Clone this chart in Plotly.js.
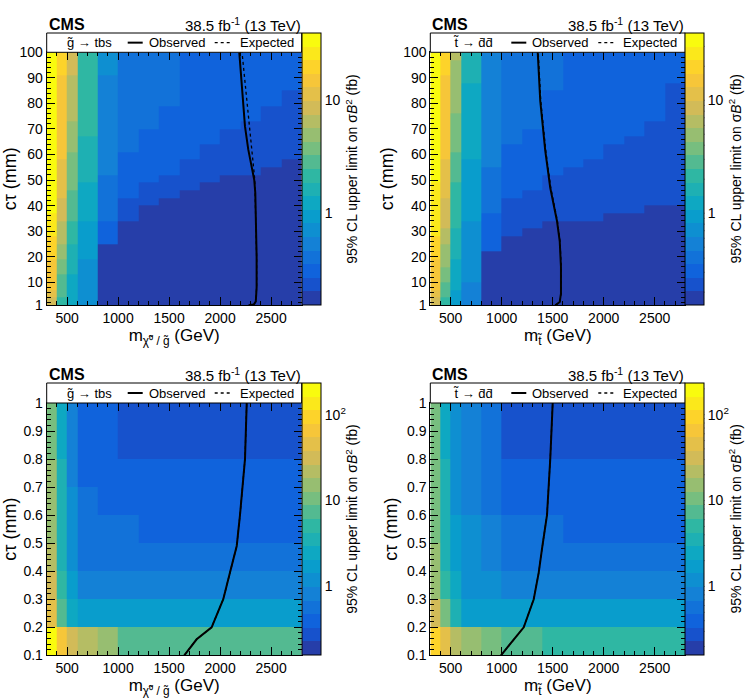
<!DOCTYPE html>
<html><head><meta charset="utf-8">
<script src="https://cdn.plot.ly/plotly-3.0.1.min.js"></script>
<style>html,body{margin:0;padding:0;background:#fff}#chart{width:754px;height:698px}</style>
</head><body><div id="chart"></div>
<script>
// ---------------- data ----------------
const massEdges = [300,400,500,600,800,1000,1200,1400,1600,1800,2000,2200,2400,2600,2800];
const ctEdgesLong = [1,4,7,10,13,16,19,22,25,28,31,34,37,40,43,46,49,52,55,58,61,64,67,70,73,76,79,82,85,88,91,94,97,100];
const ctEdgesShort = [0.1,0.2,0.3,0.4,0.5,0.6,0.7,0.8,0.9,1.0];

// 95% CL upper limit (fb); one array per mass bin, listed from lowest ctau bin upward
const gluinoLongLimit = [
 [9,11,13,15,16,17,18,20,22,24,26,28,36,36,36,36,36,36,36,36,36,36,36,36,36,36,36,36,36,36,36,36,36],
 [2.2,2.5,2.8,3.2,3.6,4.2,4.8,5.3,6,6.6,7.2,8,8.8,9.5,10.3,11,11.5,12,12.5,13,13.5,14,14.5,15,15.5,16,16,16.5,17,17,17.5,17.5,18],
 [1.1,1.2,1.3,1.4,1.5,1.6,1.7,1.8,2.0,2.1,2.3,2.5,2.7,2.9,3.1,3.3,3.5,3.7,4.0,4.2,4.5,4.8,5.1,5.4,5.7,6.0,6.3,6.6,6.9,7.2,7.5,7.8,8.0],
 [0.65,0.68,0.7,0.72,0.75,0.8,0.85,0.9,0.95,1.0,1.05,1.1,1.15,1.2,1.3,1.4,1.5,1.6,1.7,1.75,1.8,1.85,1.9,1.95,2.0,2.05,2.1,2.15,2.2,2.25,2.3,2.3,2.35],
 [0.17,0.17,0.17,0.17,0.17,0.17,0.17,0.17,0.28,0.28,0.28,0.38,0.4,0.42,0.44,0.45,0.46,0.47,0.5,0.5,0.52,0.53,0.54,0.55,0.56,0.57,0.58,0.59,0.6,0.6,0.62,0.63,0.64],
 [0.17,0.17,0.17,0.17,0.17,0.17,0.17,0.17,0.17,0.17,0.17,0.23,0.23,0.23,0.3,0.3,0.3,0.3,0.3,0.3,0.4,0.4,0.4,0.4,0.4,0.4,0.4,0.4,0.4,0.4,0.4,0.4,0.4],
 [0.17,0.17,0.17,0.17,0.17,0.17,0.17,0.17,0.17,0.17,0.17,0.17,0.17,0.23,0.23,0.23,0.3,0.3,0.3,0.3,0.3,0.3,0.3,0.4,0.4,0.4,0.4,0.4,0.4,0.4,0.4,0.4,0.4],
 [0.17,0.17,0.17,0.17,0.17,0.17,0.17,0.17,0.17,0.17,0.17,0.17,0.17,0.17,0.23,0.23,0.23,0.3,0.3,0.3,0.3,0.3,0.3,0.3,0.3,0.3,0.37,0.37,0.37,0.37,0.37,0.37,0.37],
 [0.17,0.17,0.17,0.17,0.17,0.17,0.17,0.17,0.17,0.17,0.17,0.17,0.17,0.17,0.17,0.23,0.23,0.23,0.23,0.3,0.3,0.3,0.3,0.3,0.3,0.3,0.3,0.3,0.3,0.3,0.3,0.3,0.3],
 [0.17,0.17,0.17,0.17,0.17,0.17,0.17,0.17,0.17,0.17,0.17,0.17,0.17,0.17,0.17,0.17,0.23,0.23,0.23,0.23,0.23,0.3,0.3,0.3,0.3,0.3,0.3,0.3,0.3,0.3,0.3,0.3,0.3],
 [0.17,0.17,0.17,0.17,0.17,0.17,0.17,0.17,0.17,0.17,0.17,0.17,0.17,0.17,0.17,0.17,0.17,0.23,0.23,0.23,0.23,0.23,0.23,0.3,0.3,0.3,0.3,0.3,0.3,0.3,0.3,0.3,0.3],
 [0.17,0.17,0.17,0.17,0.17,0.17,0.17,0.17,0.17,0.17,0.17,0.17,0.17,0.17,0.17,0.17,0.17,0.23,0.23,0.23,0.23,0.23,0.23,0.23,0.29,0.29,0.29,0.29,0.29,0.29,0.29,0.29,0.29],
 [0.17,0.17,0.17,0.17,0.17,0.17,0.17,0.17,0.17,0.17,0.17,0.17,0.17,0.17,0.17,0.17,0.17,0.17,0.23,0.23,0.23,0.23,0.23,0.23,0.23,0.23,0.28,0.28,0.28,0.28,0.28,0.28,0.28],
 [0.17,0.17,0.17,0.17,0.17,0.17,0.17,0.17,0.17,0.17,0.17,0.17,0.17,0.17,0.17,0.17,0.17,0.17,0.17,0.23,0.23,0.23,0.23,0.23,0.23,0.23,0.23,0.23,0.27,0.27,0.27,0.27,0.27]
];
const stopLongLimit = [
 [9,11,13,15,16,17,18,20,22,23,24,25,26,27,28,29,30,36,36,36,36,36,36,36,36,36,36,36,36,36,36,36,36],
 [2.3,2.6,3.0,3.4,3.9,4.4,5.0,5.6,6.2,6.8,7.5,8.2,9.0,9.8,10.5,11,11.5,12,12.5,13,13.5,14,14.5,15,15.5,16,16,16.5,17,17,17.5,17.5,18],
 [0.9,1.0,1.1,1.2,1.3,1.4,1.5,1.6,1.7,1.8,1.9,2.0,2.1,2.2,2.3,2.4,2.5,2.7,2.9,3.1,3.3,3.5,3.7,3.9,4.1,4.3,4.5,4.7,4.9,5.1,5.3,5.5,5.7],
 [0.55,0.58,0.6,0.62,0.65,0.68,0.7,0.72,0.75,0.78,0.8,0.83,0.86,0.9,0.93,0.96,1.0,1.03,1.06,1.1,1.13,1.16,1.2,1.23,1.26,1.3,1.33,1.36,1.4,1.43,1.46,1.5,1.55],
 [0.17,0.17,0.17,0.17,0.17,0.17,0.17,0.27,0.27,0.27,0.27,0.27,0.37,0.37,0.37,0.37,0.37,0.37,0.47,0.47,0.47,0.47,0.47,0.47,0.47,0.47,0.47,0.47,0.47,0.47,0.47,0.47,0.47],
 [0.17,0.17,0.17,0.17,0.17,0.17,0.17,0.17,0.17,0.23,0.23,0.23,0.23,0.23,0.3,0.3,0.3,0.3,0.3,0.3,0.3,0.38,0.38,0.38,0.38,0.38,0.38,0.38,0.38,0.38,0.38,0.38,0.38],
 [0.17,0.17,0.17,0.17,0.17,0.17,0.17,0.17,0.17,0.17,0.23,0.23,0.23,0.23,0.23,0.3,0.3,0.3,0.3,0.3,0.3,0.3,0.3,0.37,0.37,0.37,0.37,0.37,0.37,0.37,0.37,0.37,0.37],
 [0.17,0.17,0.17,0.17,0.17,0.17,0.17,0.17,0.17,0.17,0.17,0.23,0.23,0.23,0.23,0.23,0.23,0.3,0.3,0.3,0.3,0.3,0.3,0.3,0.3,0.3,0.3,0.3,0.37,0.37,0.37,0.37,0.37],
 [0.17,0.17,0.17,0.17,0.17,0.17,0.17,0.17,0.17,0.17,0.17,0.23,0.23,0.23,0.23,0.23,0.23,0.23,0.3,0.3,0.3,0.3,0.3,0.3,0.3,0.3,0.3,0.3,0.3,0.3,0.3,0.3,0.3],
 [0.17,0.17,0.17,0.17,0.17,0.17,0.17,0.17,0.17,0.17,0.17,0.23,0.23,0.23,0.23,0.23,0.23,0.23,0.23,0.3,0.3,0.3,0.3,0.3,0.3,0.3,0.3,0.3,0.3,0.3,0.3,0.3,0.3],
 [0.17,0.17,0.17,0.17,0.17,0.17,0.17,0.17,0.17,0.17,0.17,0.17,0.23,0.23,0.23,0.23,0.23,0.23,0.23,0.23,0.23,0.3,0.3,0.3,0.3,0.3,0.3,0.3,0.3,0.3,0.3,0.3,0.3],
 [0.17,0.17,0.17,0.17,0.17,0.17,0.17,0.17,0.17,0.17,0.17,0.17,0.23,0.23,0.23,0.23,0.23,0.23,0.23,0.23,0.23,0.23,0.29,0.29,0.29,0.29,0.29,0.29,0.29,0.29,0.29,0.29,0.29],
 [0.17,0.17,0.17,0.17,0.17,0.17,0.17,0.17,0.17,0.17,0.17,0.17,0.17,0.23,0.23,0.23,0.23,0.23,0.23,0.23,0.23,0.23,0.23,0.23,0.28,0.28,0.28,0.28,0.28,0.28,0.28,0.28,0.28],
 [0.17,0.17,0.17,0.17,0.17,0.17,0.17,0.17,0.17,0.17,0.17,0.17,0.17,0.23,0.23,0.23,0.23,0.23,0.23,0.23,0.23,0.23,0.23,0.23,0.23,0.23,0.23,0.23,0.23,0.27,0.27,0.27,0.27]
];
const gluinoShortLimit = [
 [170,45,32,20,15,14,13,12,11],
 [60,8,5,4,3.5,3.3,3.1,2.6,2.5],
 [32,2.4,1.7,1.3,1.2,1.2,0.9,0.85,0.85],
 [20,1.6,0.9,0.6,0.6,0.6,0.42,0.42,0.42],
 [14,1.6,0.85,0.6,0.6,0.42,0.42,0.42,0.42],
 [6.5,1.6,0.85,0.6,0.6,0.42,0.42,0.3,0.3],
 [6.5,1.6,0.85,0.6,0.42,0.42,0.42,0.3,0.3],
 [6.5,1.6,0.85,0.6,0.42,0.42,0.42,0.3,0.3],
 [6.5,1.6,0.85,0.6,0.42,0.42,0.42,0.3,0.3],
 [6.5,1.6,0.85,0.6,0.42,0.42,0.42,0.3,0.3],
 [6.5,1.6,0.85,0.6,0.42,0.42,0.42,0.3,0.3],
 [6.5,1.6,0.85,0.6,0.42,0.42,0.42,0.3,0.3],
 [6.5,1.6,0.85,0.6,0.42,0.42,0.42,0.3,0.3],
 [6.5,1.6,0.85,0.6,0.42,0.42,0.42,0.3,0.3]
];
const stopShortLimit = [
 [90,30,16,13,12,11,10,9.5,9],
 [40,9,6,4,3.5,3.3,3.1,2.9,2.8],
 [20,3.4,2.4,1.7,1.5,1.4,1.2,1.2,1.1],
 [15,2.0,1.4,1.1,1.05,0.85,0.85,0.8,0.8],
 [10,1.7,1.1,0.9,0.8,0.6,0.6,0.6,0.6],
 [7.5,1.6,0.9,0.6,0.6,0.45,0.45,0.32,0.32],
 [7.5,1.6,0.9,0.6,0.6,0.45,0.45,0.32,0.32],
 [5.5,1.6,0.9,0.6,0.6,0.45,0.45,0.32,0.32],
 [5.5,1.6,0.9,0.6,0.45,0.45,0.45,0.32,0.32],
 [5.5,1.6,0.9,0.6,0.45,0.45,0.45,0.32,0.32],
 [5.5,1.6,0.9,0.6,0.45,0.45,0.45,0.32,0.32],
 [5.5,1.6,0.9,0.6,0.45,0.45,0.45,0.32,0.32],
 [5.5,1.6,0.9,0.6,0.45,0.45,0.45,0.32,0.32],
 [5.5,1.6,0.9,0.6,0.45,0.45,0.45,0.32,0.32]
];

// exclusion contours (mass GeV, ctau mm)
const gluinoLongObsM  = [2280,2330,2350,2358,2358,2352,2345,2335,2310,2276,2244,2220,2200,2188];
const gluinoLongObsCt = [1,1.3,2.5,8,20,35,45,50,55,62,71,82,92,100];
const gluinoLongExpM  = [2280,2330,2350,2358,2358,2352,2347,2340,2328,2310,2285,2262,2240,2215];
const gluinoLongExpCt = [1,1.3,2.5,8,20,35,45,50,55,62,70,81,90,100];
const stopLongObsM  = [1525,1569,1581,1581,1569,1542,1476,1427,1378,1353];
const stopLongObsCt = [1,2.3,5.6,16,26,34,47,61.5,81,100];
const stopLongExpM  = [1527,1571,1583,1584,1572,1546,1481,1432,1383,1358];
const stopLongExpCt = [1,2.3,5.6,16,26,34,47,61.5,81,100];
const gluinoShortObsM  = [1649,1770,1917,2031,2097,2163,2195,2244,2261];
const gluinoShortObsCt = [0.1,0.157,0.2,0.3,0.395,0.49,0.6,0.8,1.0];
const gluinoShortExpM  = [1649,1770,1917,2031,2097,2163,2195,2244,2261];
const gluinoShortExpCt = [0.1,0.157,0.2,0.3,0.395,0.49,0.6,0.8,1.0];
const stopShortObsM  = [993,1101,1216,1314,1363,1395,1444,1476,1500];
const stopShortObsCt = [0.1,0.15,0.2,0.3,0.395,0.48,0.6,0.8,1.0];
const stopShortExpM  = [993,1101,1216,1314,1363,1395,1444,1476,1500];
const stopShortExpCt = [0.1,0.15,0.2,0.3,0.395,0.48,0.6,0.8,1.0];

const longTickVals = [1,10,20,30,40,50,60,70,80,90,100];
const shortTickVals = [0.1,0.2,0.3,0.4,0.5,0.6,0.7,0.8,0.9,1];
const shortTickText = ['0.1','0.2','0.3','0.4','0.5','0.6','0.7','0.8','0.9','1'];
const zRangeLong = [0.153, 39.4];
const zRangeShort = [0.158, 234];

// ---------------- style ----------------
const FONT = 'Liberation Sans, Arial, Helvetica, sans-serif';
const W = 754, H = 698;
const fx = p => p / W, fy = p => 1 - p / H;

const birdStops = [[0,[53,42,135]],[0.125,[15,92,221]],[0.25,[20,129,214]],[0.375,[6,164,202]],[0.5,[46,183,164]],[0.625,[135,191,119]],[0.75,[209,187,89]],[0.875,[254,200,50]],[1,[249,251,14]]];
function bird(f){
  for (let i=0;i<birdStops.length-1;i++){
    const [a,ca]=birdStops[i],[b,cb]=birdStops[i+1];
    if (f<=b){ const t=(f-a)/(b-a); return 'rgb('+ca.map((v,k)=>Math.round(v+(cb[k]-v)*t)).join(',')+')'; }
  }
  return 'rgb(249,251,14)';
}
const nBands = 20;
const bandScale = [];
for (let i=0;i<nBands;i++){
  const c = bird(Math.min(1,(i+0.99)*12.75/254));
  bandScale.push([i/nBands,c],[(i+1)/nBands,c]);
}

function toZ(cols){
  const z=[];
  for (let r=0;r<cols[0].length;r++) z.push(cols.map(c=>Math.log10(c[r])));
  return z;
}
// major (labelled) and minor colorbar tick values inside [lo,hi]
function logTicks(lo,hi){
  const major=[],majorTxt=[],minor=[];
  for (let e=-1;e<=3;e++){
    for (let m=1;m<=9;m++){
      const v=m*Math.pow(10,e);
      if (v<lo||v>hi) continue;
      if (m===1){ major.push(v); majorTxt.push(e===0?'1':e===1?'10':'10<sup>'+e+'</sup>'); }
      else minor.push(v);
    }
  }
  return {major,majorTxt,minor};
}

const boxes = [
  {x0:46.7, x1:301.7, y0:52.3, y1:305.3, top:33},
  {x0:430.3, x1:685.3, y0:52.3, y1:305.3, top:33},
  {x0:46.7, x1:301.7, y0:403, y1:655.3, top:383},
  {x0:430.3, x1:685.3, y0:403, y1:655.3, top:383}
];
const CBW = 19;
const panelDefs = [
  {cols:gluinoLongLimit, yEdges:ctEdgesLong, zr:zRangeLong, obs:[gluinoLongObsM,gluinoLongObsCt], exp:[gluinoLongExpM,gluinoLongExpCt], proc:'g\u0303 \u2192 tbs', xt:'m<sub>\u03c7\u0303\u2070 / g\u0303</sub> (GeV)', long:true},
  {cols:stopLongLimit, yEdges:ctEdgesLong, zr:zRangeLong, obs:[stopLongObsM,stopLongObsCt], exp:[stopLongExpM,stopLongExpCt], proc:'t\u0303 \u2192 d\u0304d\u0304', xt:'m<sub>t\u0303</sub> (GeV)', long:true},
  {cols:gluinoShortLimit, yEdges:ctEdgesShort, zr:zRangeShort, obs:[gluinoShortObsM,gluinoShortObsCt], exp:[gluinoShortExpM,gluinoShortExpCt], proc:'g\u0303 \u2192 tbs', xt:'m<sub>\u03c7\u0303\u2070 / g\u0303</sub> (GeV)', long:false},
  {cols:stopShortLimit, yEdges:ctEdgesShort, zr:zRangeShort, obs:[stopShortObsM,stopShortObsCt], exp:[stopShortExpM,stopShortExpCt], proc:'t\u0303 \u2192 d\u0304d\u0304', xt:'m<sub>t\u0303</sub> (GeV)', long:false}
];

const traces=[], layout={
  width:W, height:H, margin:{l:0,r:0,t:0,b:0}, paper_bgcolor:'#fff', plot_bgcolor:'#fff',
  showlegend:false, font:{family:FONT, color:'#000', size:14}, annotations:[], shapes:[]
};

panelDefs.forEach((p,i)=>{
  const b = boxes[i], n = i===0?'':String(i+1);
  const xa = 'x'+n, ya = 'y'+n;
  const tk = logTicks(p.zr[0], p.zr[1]);
  const lz0 = Math.log10(p.zr[0]), lz1 = Math.log10(p.zr[1]);
  traces.push({
    type:'heatmap', x:massEdges, y:p.yEdges, z:toZ(p.cols), xaxis:xa, yaxis:ya,
    zmin:lz0, zmax:lz1, colorscale:bandScale, zsmooth:false,
    hoverinfo:'skip',
    colorbar:{x:fx(b.x1), xanchor:'left', y:fy(b.top), yanchor:'top', len:b.y1-b.top, lenmode:'pixels',
      thickness:CBW, thicknessmode:'pixels', xpad:0, ypad:0, outlinewidth:1, outlinecolor:'#000',
      ticks:'', tickmode:'array', tickvals:tk.major.map(Math.log10), ticktext:tk.majorTxt,
      ticklabelstandoff:3, tickfont:{size:14, family:FONT}}
  });
  traces.push({type:'scatter', mode:'lines', x:p.exp[0], y:p.exp[1], xaxis:xa, yaxis:ya,
    line:{color:'#000', width:1.3, dash:'3px,3px'}, hoverinfo:'skip'});
  traces.push({type:'scatter', mode:'lines', x:p.obs[0], y:p.obs[1], xaxis:xa, yaxis:ya,
    line:{color:'#000', width:2}, hoverinfo:'skip'});

  layout['xaxis'+n] = {domain:[fx(b.x0),fx(b.x1)], anchor:ya, range:[300,2800], tickmode:'linear', tick0:0, dtick:500,
    ticks:'inside', ticklen:8, tickcolor:'#000', mirror:'allticks', showline:true, linecolor:'#000', linewidth:1,
    showgrid:false, zeroline:false, minor:{tickmode:'linear', tick0:0, dtick:100, ticks:'inside', ticklen:4, tickcolor:'#000'},
    tickfont:{size:14}, title:{text:p.xt, font:{size:17}, standoff:0}};
  layout['yaxis'+n] = {domain:[fy(b.y1),fy(b.y0)], anchor:xa, range:p.long?[1,100]:[0.1,1],
    tickmode:'array', tickvals:p.long?longTickVals:shortTickVals, ticktext:p.long?longTickVals.map(String):shortTickText,
    ticks:'inside', ticklen:8, tickcolor:'#000', mirror:'allticks', showline:true, linecolor:'#000', linewidth:1,
    showgrid:false, zeroline:false, minor:{tickmode:'linear', tick0:0, dtick:p.long?2:0.02, ticks:'inside', ticklen:4, tickcolor:'#000'},
    tickfont:{size:14}, title:{text:'c\u03c4 (mm)', font:{size:18}, standoff:4}};

  // colorbar ticks (ROOT style: on the label side, pointing into the bar)
  const cbPix = v => b.y1 - (Math.log10(v)-lz0)/(lz1-lz0)*(b.y1-b.top);
  const cbR = b.x1 + CBW;
  tk.major.forEach(v=>layout.shapes.push({type:'line', xref:'paper', yref:'paper', x0:fx(cbR-8), x1:fx(cbR), y0:fy(cbPix(v)), y1:fy(cbPix(v)), line:{color:'#000', width:1}}));
  tk.minor.forEach(v=>layout.shapes.push({type:'line', xref:'paper', yref:'paper', x0:fx(cbR-4), x1:fx(cbR), y0:fy(cbPix(v)), y1:fy(cbPix(v)), line:{color:'#000', width:1}}));

  // header
  layout.annotations.push({xref:'paper', yref:'paper', x:fx(b.x0), y:fy(b.top-9), xanchor:'left', yanchor:'middle',
    text:'<b>CMS</b>', showarrow:false, font:{size:16}});
  layout.annotations.push({xref:'paper', yref:'paper', x:fx(b.x1+1), y:fy(b.top-9), xanchor:'right', yanchor:'middle',
    text:'38.5 fb<sup>-1</sup> (13 TeV)', showarrow:false, font:{size:15}});
  // legend box
  const ly = (b.top + b.y0)/2;
  layout.shapes.push({type:'rect', xref:'paper', yref:'paper', x0:fx(b.x0), x1:fx(b.x1), y0:fy(b.y0), y1:fy(b.top),
    fillcolor:'#fff', line:{color:'#000', width:1}, layer:'above'});
  layout.shapes.push({type:'line', xref:'paper', yref:'paper', x0:fx(b.x0+81), x1:fx(b.x0+96), y0:fy(ly), y1:fy(ly),
    line:{color:'#000', width:2}});
  layout.shapes.push({type:'line', xref:'paper', yref:'paper', x0:fx(b.x0+168), x1:fx(b.x0+185), y0:fy(ly), y1:fy(ly),
    line:{color:'#000', width:1.3, dash:'3px,3px'}});
  layout.annotations.push({xref:'paper', yref:'paper', x:fx(b.x0+43), y:fy(ly), xanchor:'center', yanchor:'middle',
    text:p.proc, showarrow:false, font:{size:13}});
  layout.annotations.push({xref:'paper', yref:'paper', x:fx(b.x0+100), y:fy(ly), xanchor:'left', yanchor:'middle',
    text:'Observed', showarrow:false, font:{size:13}});
  layout.annotations.push({xref:'paper', yref:'paper', x:fx(b.x0+191), y:fy(ly), xanchor:'left', yanchor:'middle',
    text:'Expected', showarrow:false, font:{size:13}});
  // colorbar title
  layout.annotations.push({xref:'paper', yref:'paper', x:fx(cbR+31), y:fy((b.top+b.y1)/2), xanchor:'center', yanchor:'middle',
    textangle:-90, text:'95% CL upper limit on \u03c3<i>B</i><sup>2</sup> (fb)', showarrow:false, font:{size:14}});
});

Plotly.newPlot('chart', traces, layout, {displayModeBar:false, staticPlot:true});
</script>
</body></html>
